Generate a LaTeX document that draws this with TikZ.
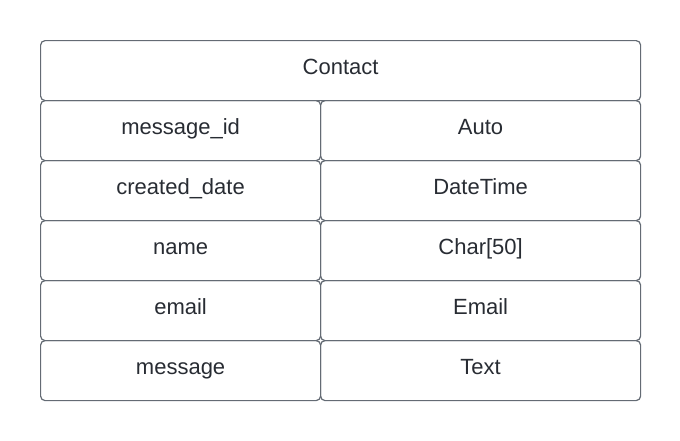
\documentclass[tikz,border=0pt]{standalone}
\usepackage{fontspec}
\setmainfont{Liberation Sans}
\definecolor{cellline}{HTML}{646B74}
\definecolor{celltext}{HTML}{282C33}
\begin{document}
\begin{tikzpicture}[x=1pt,y=-1pt,
  cell/.style={draw=cellline, line width=1.2pt, rounded corners=4.5pt,
    text=celltext, font=\fontsize{22}{24}\selectfont, inner sep=0pt,
    text height=14pt, text depth=6pt,
    minimum height=60pt, anchor=north west},
  keycell/.style={cell, minimum width=280pt},
  valcell/.style={cell, minimum width=320pt},
  full/.style={cell, minimum width=600pt}]
\useasboundingbox (0,0) rectangle (680,440);
\node[full] (title) at (40,40) {Contact};
\node[keycell] (k1) at (40,100) {message\_id};
\node[valcell] (v1) at (320,100) {Auto};
\node[keycell] (k2) at (40,160) {created\_date};
\node[valcell] (v2) at (320,160) {DateTime};
\node[keycell] (k3) at (40,220) {name};
\node[valcell] (v3) at (320,220) {Char[50]};
\node[keycell] (k4) at (40,280) {email};
\node[valcell] (v4) at (320,280) {Email};
\node[keycell] (k5) at (40,340) {message};
\node[valcell] (v5) at (320,340) {Text};
\end{tikzpicture}
\end{document}
